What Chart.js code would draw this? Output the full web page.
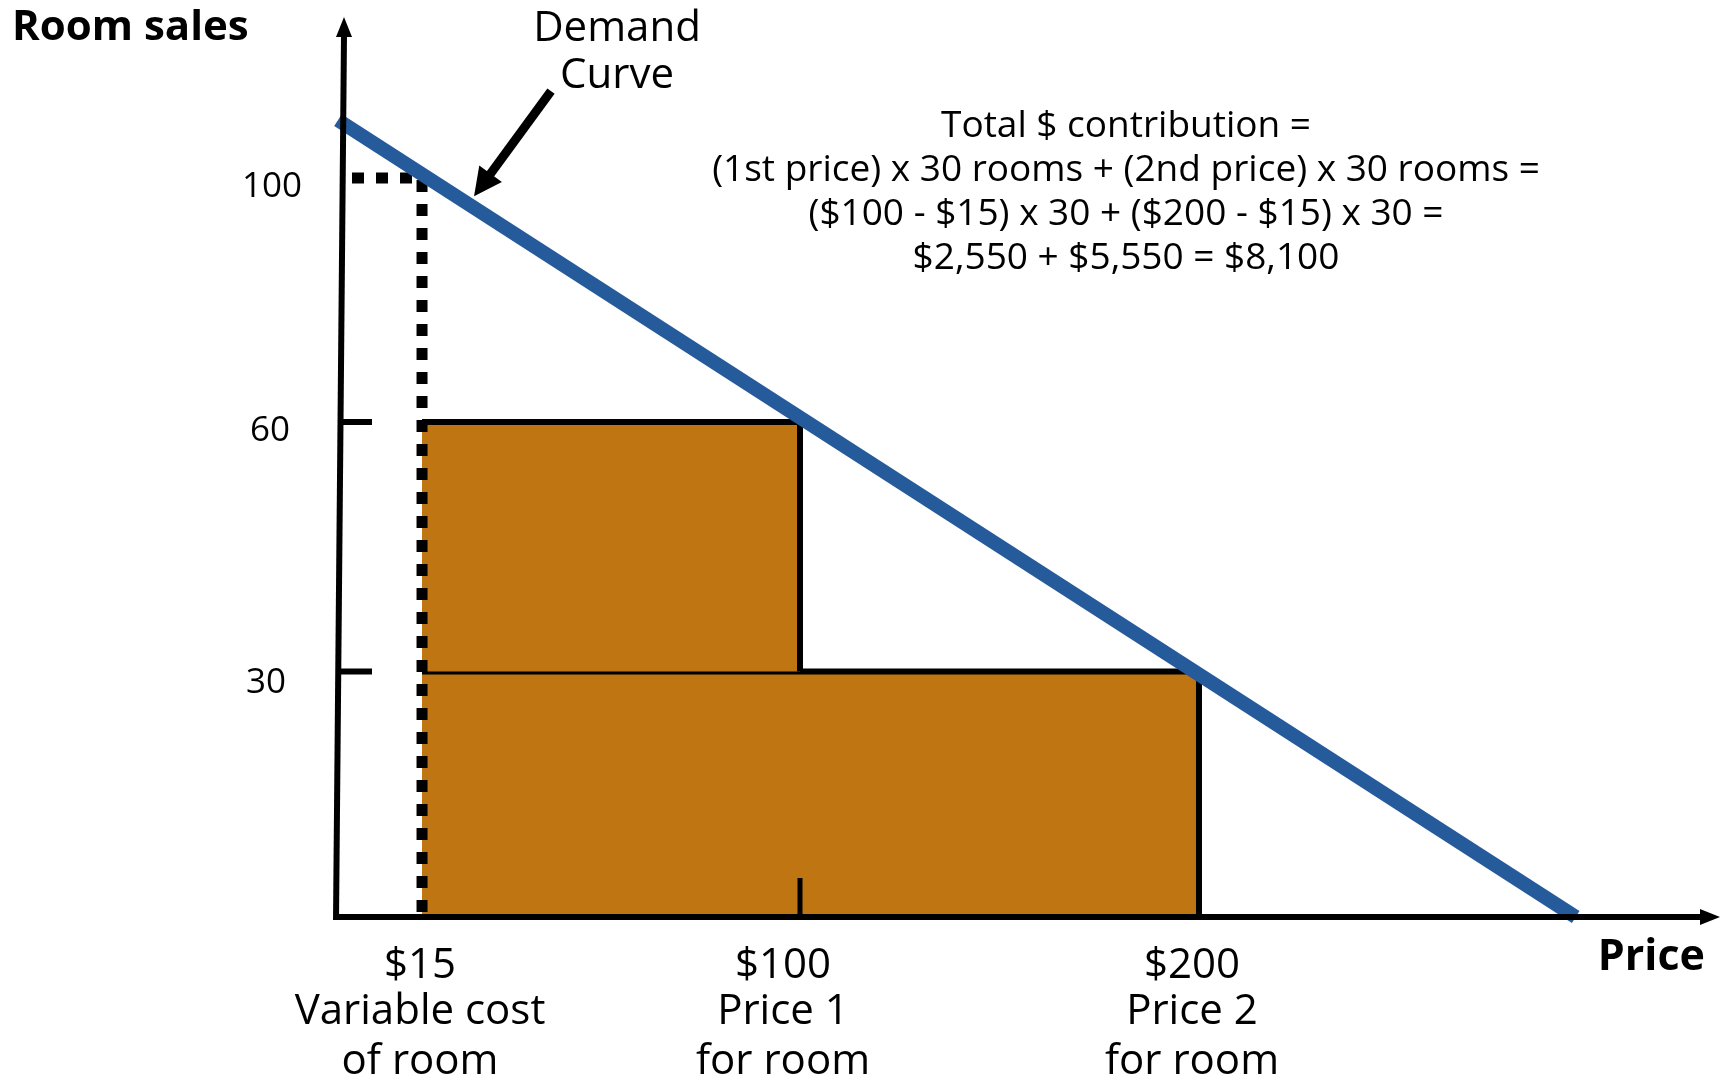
<!DOCTYPE html>
<html>
<head>
<meta charset="utf-8">
<script src="https://cdn.jsdelivr.net/npm/chart.js@4.4.1/dist/chart.umd.min.js"></script>
<style>
  html, body { margin: 0; padding: 0; background: #fff; }
  #wrap { width: 1727px; height: 1077px; position: relative; }
</style>
</head>
<body>
<div id="wrap"><canvas id="chart"></canvas></div>
<script>
// Values
const priceTicks = [15, 100, 200];
const priceTickLabels = [
    ["$15", "Variable cost", "of room"],
    ["$100", "Price 1", "for room"],
    ["$200", "Price 2", "for room"]
];
const salesTicks = [30, 60, 100];
const salesTickLabels = ["30", "60", "100"];

const demandPrice = [0, 294];
const demandSales = [109, 0];

const variableCost = 15;
const blockPrices = [100, 200];   // right edge of each block
const blockTops = [60, 30];
const blockBottoms = [30, 0];
const guideSales = 100;
const guideStart = 2.5;

const priceMax = 330;
const salesMax = 125;

const formulaLines = [
    "Total $ contribution =",
    "(1st price) x 30 rooms + (2nd price) x 30 rooms =",
    "($100 - $15) x 30 + ($200 - $15) x 30 =",
    "$2,550 + $5,550 = $8,100"
];

// The drawing is not to scale, so each axis gets a piecewise linear mapping
const knots = {
    x: { vals: [0, 15, 100, 200, priceMax], pos: [0, 0.0608, 0.3343, 0.623, 1] },
    y: { vals: [0, 30, 60, 100, salesMax], pos: [0, 0.2728, 0.55, 0.8211, 1] }
};

function warp(from, to, v) {
    for (let i = 1; i < from.length; i++) {
        if (v <= from[i] || i === from.length - 1) {
            const t = (v - from[i - 1]) / (from[i] - from[i - 1]);
            return to[i - 1] + t * (to[i] - to[i - 1]);
        }
    }
}

class WarpScale extends Chart.LinearScale {
    getPixelForValue(value) {
        if (value === null || value === undefined || isNaN(value)) return NaN;
        const k = knots[this.axis];
        return this.getPixelForDecimal(warp(k.vals, k.pos, value));
    }
    getValueForPixel(pixel) {
        const k = knots[this.axis];
        return warp(k.pos, k.vals, this.getDecimalForPixel(pixel));
    }
}
WarpScale.id = 'warp';
WarpScale.defaults = { ...Chart.LinearScale.defaults };
Chart.register(WarpScale);

const blue = '#255A9B';
const orange = '#BE7512';
const black = '#000000';
const fontFamily = '"Open Sans", "DejaVu Sans", sans-serif';

function arrowHead(ctx, tx, ty, ang, len, half) {
    ctx.save();
    ctx.translate(tx, ty);
    ctx.rotate(ang);
    ctx.beginPath();
    ctx.moveTo(0, 0);
    ctx.lineTo(-len, -half);
    ctx.lineTo(-len, half);
    ctx.closePath();
    ctx.fill();
    ctx.restore();
}

// axes, ticks, labels and notes
const diagramPlugin = {
    id: 'diagram',
    afterDraw(chart) {
        const { ctx, chartArea: a, scales: { x, y } } = chart;
        const x0 = x.getPixelForValue(0);
        const y0 = y.getPixelForValue(0);
        ctx.save();
        ctx.strokeStyle = black;
        ctx.fillStyle = black;
        ctx.lineCap = 'butt';

        // x axis
        ctx.lineWidth = 6;
        ctx.beginPath();
        ctx.moveTo(x0 - 4, y0);
        ctx.lineTo(a.right - 16, y0);
        ctx.stroke();
        arrowHead(ctx, a.right, y0, 0, 20, 8);

        // y axis (slightly leaning, as drawn)
        const topX = x0 + 6;
        ctx.beginPath();
        ctx.moveTo(x0 - 2, y0 + 3);
        ctx.lineTo(topX, a.top + 18);
        ctx.stroke();
        arrowHead(ctx, topX, a.top, -Math.PI / 2, 20, 8);

        // y ticks
        salesTicks.forEach(v => {
            if (v === guideSales) return;
            const py = y.getPixelForValue(v);
            ctx.beginPath();
            ctx.moveTo(x0, py);
            ctx.lineTo(x0 + 34, py);
            ctx.stroke();
        });
        // x ticks
        ctx.lineWidth = 5;
        blockPrices.forEach(v => {
            const px = x.getPixelForValue(v);
            ctx.beginPath();
            ctx.moveTo(px, y0);
            ctx.lineTo(px, y0 - 39);
            ctx.stroke();
        });

        // y tick labels
        ctx.font = '35px ' + fontFamily;
        ctx.textAlign = 'center';
        ctx.textBaseline = 'middle';
        const yLabelX = [x0 - 72, x0 - 68, x0 - 66];
        salesTicks.forEach((v, i) => {
            ctx.fillText(salesTickLabels[i], yLabelX[i], y.getPixelForValue(v) + (i === 0 ? 12 : 9));
        });

        // x tick labels
        ctx.font = '42px ' + fontFamily;
        ctx.textBaseline = 'alphabetic';
        const lineYs = [y0 + 61, y0 + 107, y0 + 157];
        const labelShift = [-2, -17, -7];
        priceTicks.forEach((v, i) => {
            const px = x.getPixelForValue(v) + labelShift[i];
            priceTickLabels[i].forEach((t, j) => ctx.fillText(t, px, lineYs[j]));
        });

        // axis titles
        ctx.font = 'bold 42px ' + fontFamily;
        ctx.textAlign = 'left';
        ctx.fillText('Room sales', 12, 40);
        ctx.font = 'bold 43px ' + fontFamily;
        ctx.textAlign = 'right';
        ctx.fillText('Price', 1705, y0 + 53);

        // demand curve note + arrow
        ctx.font = '42px ' + fontFamily;
        ctx.textAlign = 'center';
        ctx.fillText('Demand', 617, 41);
        ctx.fillText('Curve', 617, 88);

        const tail = { x: x.getPixelForValue(44), y: y.getPixelForValue(113.5) };
        const tip = { x: x.getPixelForValue(26.7), y: y.getPixelForValue(97) };
        const ang = Math.atan2(tip.y - tail.y, tip.x - tail.x);
        const headLen = 28;
        ctx.lineWidth = 9;
        ctx.beginPath();
        ctx.moveTo(tail.x, tail.y);
        ctx.lineTo(tip.x - Math.cos(ang) * (headLen - 4), tip.y - Math.sin(ang) * (headLen - 4));
        ctx.stroke();
        arrowHead(ctx, tip.x, tip.y, ang, headLen, 14);

        // contribution formula
        ctx.font = '37px ' + fontFamily;
        const fx = 1126;
        formulaLines.forEach((t, i) => ctx.fillText(t, fx, 137 + i * 44));

        ctx.restore();
    }
};

new Chart(document.getElementById('chart'), {
    type: 'line',
    data: {
        datasets: [
            {
                label: 'Demand Curve',
                data: demandPrice.map((p, i) => ({ x: p, y: demandSales[i] })),
                borderColor: blue,
                borderWidth: 14,
                fill: false,
                clip: false,
                order: 0
            },
            {
                label: 'Variable cost guide',
                data: [
                    { x: guideStart, y: guideSales },
                    { x: variableCost, y: guideSales },
                    { x: variableCost, y: 0 }
                ],
                borderColor: black,
                borderWidth: 11,
                borderDash: [12, 12],
                fill: false,
                order: 1
            },
            {
                label: 'Price 1 block',
                data: [
                    { x: variableCost, y: blockTops[0] },
                    { x: blockPrices[0], y: blockTops[0] },
                    { x: blockPrices[0], y: blockBottoms[0] }
                ],
                borderColor: black,
                backgroundColor: orange,
                borderWidth: 6,
                fill: { value: blockBottoms[0] },
                order: 2
            },
            {
                label: 'Price 2 block',
                data: [
                    { x: variableCost, y: blockTops[1] },
                    { x: blockPrices[1], y: blockTops[1] },
                    { x: blockPrices[1], y: blockBottoms[1] }
                ],
                borderColor: black,
                backgroundColor: orange,
                borderWidth: 6,
                fill: { value: blockBottoms[1] },
                order: 3
            }
        ]
    },
    options: {
        responsive: true,
        maintainAspectRatio: false,
        animation: false,
        layout: { padding: { left: 338, right: 7, top: 17, bottom: 160 } },
        plugins: { legend: { display: false }, tooltip: { enabled: false } },
        elements: { point: { radius: 0 }, line: { tension: 0, borderJoinStyle: 'miter' } },
        scales: {
            x: { type: 'warp', min: 0, max: priceMax, display: false },
            y: { type: 'warp', min: 0, max: salesMax, display: false }
        }
    },
    plugins: [diagramPlugin]
});
</script>
</body>
</html>
